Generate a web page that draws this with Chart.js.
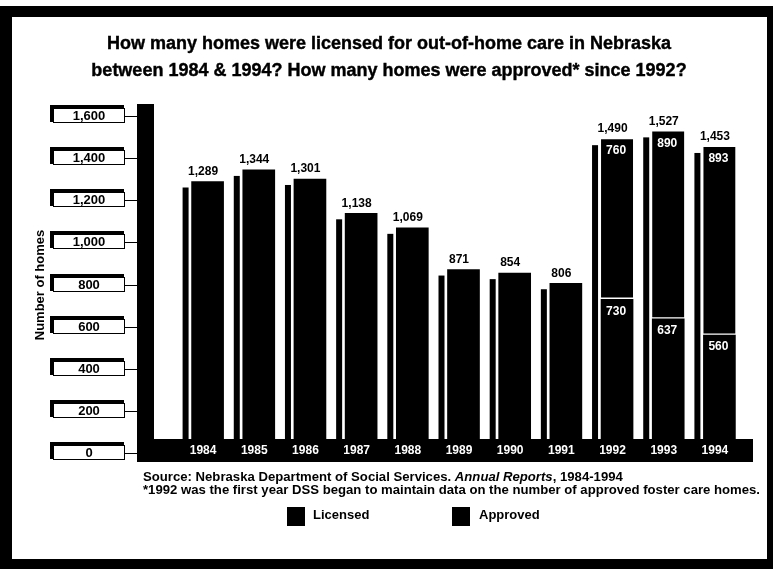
<!DOCTYPE html>
<html>
<head>
<meta charset="utf-8">
<script src="https://cdn.jsdelivr.net/npm/chart.js@4.4.1/dist/chart.umd.min.js"></script>
<style>
  html, body { margin: 0; padding: 0; background: #fff; }
  #wrap { width: 773px; height: 569px; position: relative; }
</style>
</head>
<body>
<div id="wrap"><canvas id="homesChart" width="773" height="569"></canvas></div>
<script>
// Nebraska out-of-home care homes, 1984-1994
const years = ['1984', '1985', '1986', '1987', '1988', '1989', '1990', '1991', '1992', '1993', '1994'];
const licensed = [1289, 1344, 1301, 1138, 1069, 871, 854, 806, 730, 637, 560];
const approved = [null, null, null, null, null, null, null, null, 760, 890, 893];
const yTicks = [0, 200, 400, 600, 800, 1000, 1200, 1400, 1600];

const titleLines = [
    'How many homes were licensed for out-of-home care in Nebraska',
    'between 1984 & 1994? How many homes were approved* since 1992?'
];
const FONT = '"Liberation Sans", Arial, Helvetica, sans-serif';

function fmt(n) {
    return n.toLocaleString('en-US');
}

// page furniture: frame, title, boxed y ticks, notes and legend
const backdrop = {
    id: 'backdrop',
    beforeDraw(chart) {
        const ctx = chart.ctx;
        const y = chart.scales.y;
        ctx.save();
        ctx.fillStyle = '#fff';
        ctx.fillRect(0, 0, chart.width, chart.height);

        // black frame
        ctx.fillStyle = '#000';
        ctx.fillRect(0, 6, chart.width, chart.height - 6);
        ctx.fillStyle = '#fff';
        ctx.fillRect(12, 17, 755, 542);

        // title
        ctx.fillStyle = '#000';
        ctx.strokeStyle = '#000';
        ctx.lineWidth = 0.4;
        ctx.textAlign = 'center';
        ctx.textBaseline = 'alphabetic';
        ctx.font = 'bold 18px ' + FONT;
        titleLines.forEach((line, i) => {
            ctx.fillText(line, 389, 49 + i * 27);
            ctx.strokeText(line, 389, 49 + i * 27);
        });

        // thick vertical axis post
        ctx.fillRect(137, 104, 17, 358);

        // boxed tick labels
        yTicks.forEach(v => {
            const py = Math.round(y.getPixelForValue(v));
            const bx = 53, bw = 72, bh = 15, by = py - 8;
            ctx.fillStyle = '#000';
            ctx.fillRect(bx - 3, by - 3, bw + 2, bh + 2);
            ctx.fillStyle = '#fff';
            ctx.fillRect(bx, by, bw, bh);
            ctx.strokeStyle = '#000';
            ctx.lineWidth = 1;
            ctx.strokeRect(bx + 0.5, by + 0.5, bw - 1, bh - 1);
            ctx.beginPath();
            ctx.moveTo(bx + bw, py + 0.5);
            ctx.lineTo(137, py + 0.5);
            ctx.stroke();
            ctx.fillStyle = '#000';
            ctx.font = 'bold 13px ' + FONT;
            ctx.textAlign = 'center';
            ctx.textBaseline = 'middle';
            ctx.fillText(fmt(v), bx + bw / 2, py);
        });

        // axis title
        ctx.save();
        ctx.translate(40, 285);
        ctx.rotate(-Math.PI / 2);
        ctx.font = 'bold 13px ' + FONT;
        ctx.textAlign = 'center';
        ctx.textBaseline = 'middle';
        ctx.fillText('Number of homes', 0, 0);
        ctx.restore();

        // source and footnote, set slightly wide
        ctx.save();
        ctx.translate(143, 0);
        ctx.scale(1.095, 1);
        ctx.textAlign = 'left';
        ctx.textBaseline = 'middle';
        ctx.font = 'bold 12px ' + FONT;
        let x = 0;
        const part1 = 'Source: Nebraska Department of Social Services. ';
        ctx.fillText(part1, x, 478);
        x += ctx.measureText(part1).width;
        ctx.font = 'italic bold 12px ' + FONT;
        ctx.fillText('Annual Reports', x, 478);
        x += ctx.measureText('Annual Reports').width;
        ctx.font = 'bold 12px ' + FONT;
        ctx.fillText(', 1984-1994', x, 478);
        ctx.fillText('*1992 was the first year DSS began to maintain data on the number of approved foster care homes.', 0, 491);
        ctx.restore();

        // legend
        const spots = [{ box: 287, text: 313 }, { box: 452, text: 479 }];
        ctx.textAlign = 'left';
        ctx.textBaseline = 'middle';
        chart.data.datasets.forEach((ds, i) => {
            ctx.fillStyle = '#000';
            ctx.fillRect(spots[i].box, 507, 18, 19);
            ctx.font = 'bold 13px ' + FONT;
            ctx.fillText(ds.label, spots[i].text, 515);
        });
        ctx.restore();
    }
};

// left-hand depth slab behind each column
const depth = {
    id: 'depth',
    beforeDatasetsDraw(chart) {
        const ctx = chart.ctx;
        const base = chart.scales.y.getPixelForValue(0);
        ctx.save();
        ctx.fillStyle = '#000';
        years.forEach((yr, i) => {
            let top = Infinity, left = 0;
            chart.data.datasets.forEach((ds, d) => {
                if (ds.data[i] == null) return;
                const bar = chart.getDatasetMeta(d).data[i];
                top = Math.min(top, bar.y);
                left = bar.x - bar.width / 2;
            });
            if (top === Infinity) return;
            ctx.fillRect(left - 9, top + 6, 6, base - top - 6);
        });
        ctx.restore();
    }
};

// year strip along the floor plus value labels
const labels = {
    id: 'labels',
    afterDatasetsDraw(chart) {
        const ctx = chart.ctx;
        const metaL = chart.getDatasetMeta(0);
        const metaA = chart.getDatasetMeta(1);
        ctx.save();
        ctx.fillStyle = '#000';
        ctx.fillRect(154, 439, 599, 23);

        ctx.textAlign = 'center';
        ctx.textBaseline = 'middle';
        ctx.font = 'bold 12px ' + FONT;
        years.forEach((yr, i) => {
            const barL = metaL.data[i];
            const cx = barL.x - 4.5;
            ctx.fillStyle = '#fff';
            ctx.fillText(yr, cx, 451);

            const total = licensed[i] + (approved[i] || 0);
            const topY = approved[i] != null ? metaA.data[i].y : barL.y;
            ctx.fillStyle = '#000';
            ctx.fillText(fmt(total), cx, topY - 10);

            if (approved[i] != null) {
                ctx.fillStyle = '#fff';
                ctx.fillText(fmt(approved[i]), barL.x - 1, metaA.data[i].y + 12);
                ctx.fillText(fmt(licensed[i]), barL.x - 1, barL.y + 12);
            }
        });
        ctx.restore();
    }
};

new Chart(document.getElementById('homesChart'), {
    type: 'bar',
    data: {
        labels: years,
        datasets: [
            {
                label: 'Licensed',
                data: licensed,
                backgroundColor: '#000',
                borderWidth: 0,
                barThickness: 32,
                stack: 'homes'
            },
            {
                label: 'Approved',
                data: approved,
                backgroundColor: '#000',
                borderColor: '#fff',
                borderWidth: { top: 0, left: 0, right: 0, bottom: 2 },
                borderSkipped: false,
                barThickness: 32,
                stack: 'homes'
            }
        ]
    },
    options: {
        responsive: false,
        animation: false,
        layout: { padding: { left: 182, right: 28, top: 116, bottom: 116 } },
        plugins: {
            legend: { display: false },
            title: { display: false },
            tooltip: { enabled: false }
        },
        scales: {
            x: { stacked: true, display: false, offset: true },
            y: { stacked: true, display: false, min: 0, max: 1600 }
        }
    },
    plugins: [backdrop, depth, labels]
});
</script>
</body>
</html>
